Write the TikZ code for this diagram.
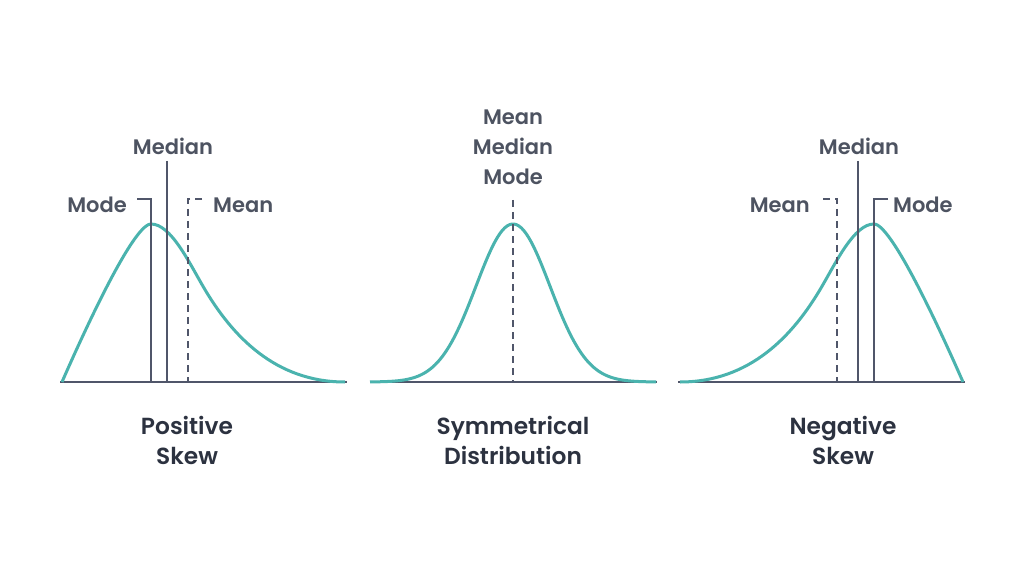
\documentclass[tikz,border=0pt]{standalone}
\usepackage{fontspec}
\setmainfont{Poppins}[UprightFont=* Medium, BoldFont=* SemiBold]
\definecolor{teal}{HTML}{4AB3AE}
\definecolor{lineg}{HTML}{50566A}
\definecolor{labg}{HTML}{4D5361}
\definecolor{titg}{HTML}{2C3240}
\tikzset{
  curve/.style={draw=teal, line width=3pt, line join=round},
  axis/.style={draw=lineg, line width=2pt},
  solidm/.style={draw=lineg, line width=1.6pt},
  dashm/.style={draw=lineg, line width=1.4pt, dash pattern=on 7pt off 5pt},
  lab/.style={text=labg, font=\bfseries\fontsize{21}{25}\selectfont, inner sep=0pt},
  tit/.style={text=titg, font=\bfseries\fontsize{23.3}{27}\selectfont, inner sep=0pt, align=center}
}
\begin{document}
\begin{tikzpicture}[x=1pt, y=-1pt]
\useasboundingbox[fill=white] (0,0) rectangle (1024,577);
% ---------- positive skew ----------
\draw[axis] (60,382) -- (347,382);
\draw[curve] (62,382) .. controls (76,350) and (132,224) .. (151,224)
      .. controls (171,224) and (189,262.5) .. (204,288)
      .. controls (232,335.6) and (275,382) .. (345,382);
\draw[solidm] (137,199) -- (151,199) -- (151,382);
\draw[solidm] (167,161) -- (167,382);
\draw[dashm] (202,199) -- (188,199) -- (188,382);
\node[lab, anchor=base east] (pmode) at (127,213) {Mode};
\node[lab, anchor=base] (pmedian) at (173,155) {Median};
\node[lab, anchor=base west] (pmean) at (213,213) {Mean};
\node[tit, anchor=base] (pos1) at (187,434) {Positive};
\node[tit, anchor=base] (pos2) at (187,464) {Skew};
% ---------- symmetrical ----------
\draw[axis] (370,382) -- (657,382);
\draw[curve] plot[domain=370:656, samples=120] (\x, {382 - 158*exp(-0.5*((\x-513)/37)^2)});
\draw[dashm] (513,200) -- (513,382);
\node[lab, anchor=base] (smean) at (513,125) {Mean};
\node[lab, anchor=base] (smedian) at (513,155) {Median};
\node[lab, anchor=base] (smode) at (513,185) {Mode};
\node[tit, anchor=base] (sym1) at (513,434) {Symmetrical};
\node[tit, anchor=base] (sym2) at (513,464) {Distribution};
% ---------- negative skew ----------
\draw[axis] (678,382) -- (965,382);
\draw[curve] (963,382) .. controls (949,350) and (893,224) .. (874,224)
      .. controls (854,224) and (836,262.5) .. (821,288)
      .. controls (793,335.6) and (750,382) .. (680,382);
\draw[solidm] (888,199) -- (874,199) -- (874,382);
\draw[solidm] (858,161) -- (858,382);
\draw[dashm] (823,199) -- (837,199) -- (837,382);
\node[lab, anchor=base west] (nmode) at (893,213) {Mode};
\node[lab, anchor=base] (nmedian) at (859,155) {Median};
\node[lab, anchor=base east] (nmean) at (810,213) {Mean};
\node[tit, anchor=base] (neg1) at (843,434) {Negative};
\node[tit, anchor=base] (neg2) at (843,464) {Skew};
\end{tikzpicture}
\end{document}
